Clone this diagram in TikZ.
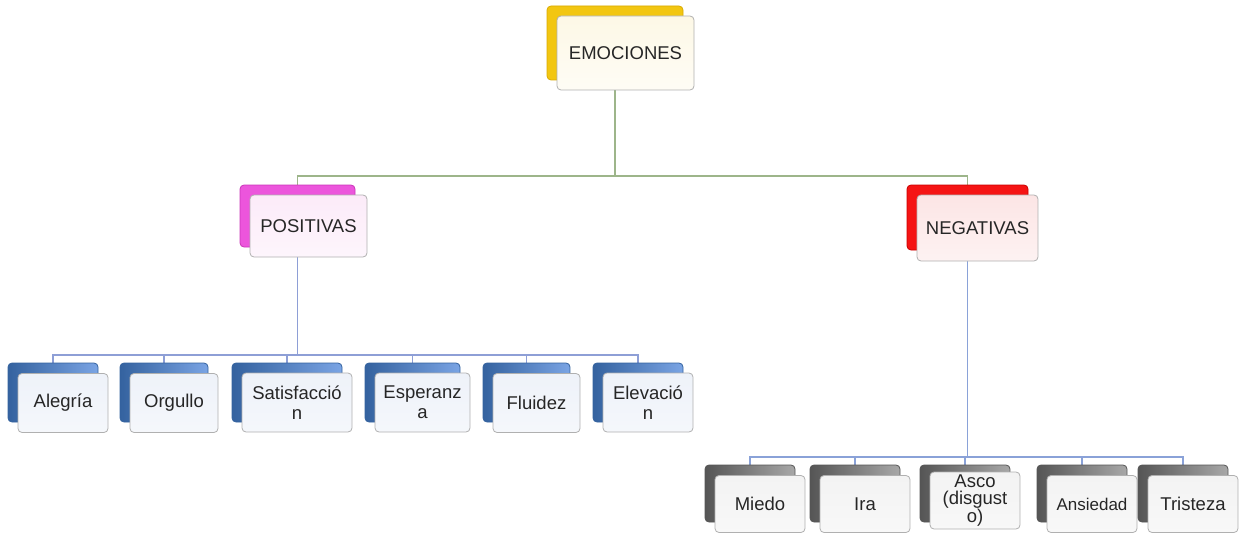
\documentclass[tikz,border=0pt]{standalone}
\usepackage{fontspec}
\setmainfont{Liberation Sans}
\usetikzlibrary{backgrounds}
\definecolor{txt}{HTML}{262626}
\definecolor{emoBk}{HTML}{F2C611}
\definecolor{emoBkD}{HTML}{D9A900}
\definecolor{emoFr}{HTML}{FDF8E6}
\definecolor{posBk}{HTML}{EC55DC}
\definecolor{posBkD}{HTML}{C935B8}
\definecolor{posFr}{HTML}{FCEBF9}
\definecolor{negBk}{HTML}{F51414}
\definecolor{negBkD}{HTML}{C80000}
\definecolor{negFr}{HTML}{FCE5E5}
\definecolor{cpBk}{HTML}{4C7FCC}
\definecolor{cpBkD}{HTML}{34629F}
\definecolor{cpBkL}{HTML}{7AA4E4}
\definecolor{cpFr}{HTML}{EEF2F9}
\definecolor{cnBk}{HTML}{707070}
\definecolor{cnBkD}{HTML}{555555}
\definecolor{cnBkL}{HTML}{A8A8A8}
\definecolor{cnFr}{HTML}{F3F3F3}
\definecolor{frBorder}{HTML}{B0B0B0}
\definecolor{lnTop}{HTML}{9DB58A}
\definecolor{lnPos}{HTML}{8E9FD6}
\definecolor{lnNeg}{HTML}{8AA2D8}
\tikzset{
  box/.style={rounded corners=4pt, inner sep=0pt, align=center, font=\fontsize{18.5}{20}\selectfont, text=txt},
  backbox/.style={box, draw=#1, line width=0.8pt},
  frontbox/.style={box, draw=frBorder, line width=0.8pt},
  conn/.style={draw=#1, line width=1.6pt},
}
\begin{document}
\begin{tikzpicture}[x=1pt,y=-1pt]
\useasboundingbox (0,0) rectangle (1243,535);
% top level
\node[backbox=emoBkD, fill=emoBk, minimum width=136pt, minimum height=74pt] (emoB) at (615,43) {};
\node[frontbox, top color=emoFr, bottom color=white!60!emoFr, minimum width=137pt, minimum height=74pt] (emoF) at (625.5,53) {EMOCIONES};
% second level
\node[backbox=posBkD, fill=posBk, minimum width=115pt, minimum height=62pt] (posB) at (297.5,216) {};
\node[frontbox, top color=posFr, bottom color=white!50!posFr, minimum width=117pt, minimum height=62pt] (posF) at (308.5,226) {POSITIVAS};
\node[backbox=negBkD, fill=negBk, minimum width=121pt, minimum height=65pt] (negB) at (967.5,217.5) {};
\node[frontbox, top color=negFr, bottom color=white!50!negFr, minimum width=121pt, minimum height=66pt] (negF) at (977.5,228) {NEGATIVAS};
% children styles
\tikzset{
  pback/.style={backbox=cpBkD, left color=cpBkD, right color=cpBkL, minimum height=59pt},
  pfront/.style={frontbox, top color=cpFr, bottom color=white!40!cpFr, minimum height=59pt},
  nback/.style={backbox=cnBkD, left color=cnBkD, right color=cnBkL, minimum height=57pt, minimum width=90pt},
  nfront/.style={frontbox, top color=cnFr, bottom color=white!40!cnFr, minimum height=57pt, minimum width=90pt},
}
% positive children
\node[pback, minimum width=90pt] (c1B) at (53,392.5) {};
\node[pfront, minimum width=90pt] (c1F) at (63,403) {Alegría};
\node[pback, minimum width=88pt] (c2B) at (164,392.5) {};
\node[pfront, minimum width=88pt] (c2F) at (174,403) {Orgullo};
\node[pback, minimum width=110pt] (c3B) at (287,392.5) {};
\node[pfront, minimum width=110pt] (c3F) at (297,402.5) {Satisfacció\\n};
\node[pback, minimum width=95pt] (c4B) at (412.5,392.5) {};
\node[pfront, minimum width=95pt] (c4F) at (422.5,402.5) {Esperanz\\a};
\node[pback, minimum width=87pt] (c5B) at (526.5,392.5) {};
\node[pfront, minimum width=87pt] (c5F) at (536.5,403) {Fluidez};
\node[pback, minimum width=90pt] (c6B) at (638,392.5) {};
\node[pfront, minimum width=90pt] (c6F) at (648,402.5) {Elevació\\n};
% negative children
\node[nback] (d1B) at (750,493.5) {};
\node[nfront] (d1F) at (760,504) {Miedo};
\node[nback] (d2B) at (855,493.5) {};
\node[nfront] (d2F) at (865,504) {Ira};
\node[nback] (d3B) at (965,493.5) {};
\node[nfront, font=\fontsize{18.5}{17.5}\selectfont] (d3F) at (975,500.5) {Asco\\(disgust\\o)};
\node[nback] (d4B) at (1082,493.5) {};
\node[nfront, font=\fontsize{17}{19}\selectfont] (d4F) at (1092,504) {Ansiedad};
\node[nback] (d5B) at (1183,493.5) {};
\node[nfront] (d5F) at (1193,504) {Tristeza};
% connectors
\coordinate (j1) at (615,176);
\coordinate (j2) at (297.5,355);
\coordinate (j3) at (967.5,457);
\begin{scope}[on background layer]
\draw[conn=lnTop] (emoB.south) -- (j1);
\draw[conn=lnTop] (posB.north) |- (j1) -| (negB.north);
\draw[conn=lnPos] (posB.south) -- (j2);
\foreach \c in {c1B,c2B,c3B,c4B,c5B,c6B} \draw[conn=lnPos] (j2) -| (\c.north);
\draw[conn=lnNeg] (negB.south) -- (j3);
\foreach \c in {d1B,d2B,d3B,d4B,d5B} \draw[conn=lnNeg] (j3) -| (\c.north);
\end{scope}
\end{tikzpicture}
\end{document}
